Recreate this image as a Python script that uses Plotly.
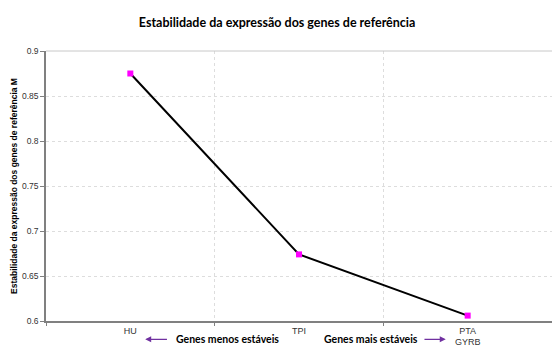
import plotly.graph_objects as go

# Stability value M for each reference gene group
genes = ["HU", "TPI", "PTA<br>GYRB"]
m_values = [0.875, 0.674, 0.606]
y_ticks = [0.6, 0.65, 0.7, 0.75, 0.8, 0.85, 0.9]
y_tick_text = ["0.6", "0.65", "0.7", "0.75", "0.8", "0.85", "0.9"]

fig = go.Figure()
fig.add_trace(go.Scatter(
    x=genes, y=m_values, mode="lines+markers",
    line=dict(color="black", width=2),
    marker=dict(symbol="square", size=6, color="#ff00ff"),
    showlegend=False,
))

fig.update_layout(
    width=552, height=348,
    margin=dict(l=46, r=0, t=51, b=27),
    paper_bgcolor="white", plot_bgcolor="white",
    title=dict(
        text="<b>Estabilidade da expressão dos genes de referência</b>",
        x=0.502, xanchor="center", y=0.935, yanchor="middle",
        font=dict(family="Lato", size=12.5, color="black"),
    ),
    xaxis=dict(
        type="category", range=[-0.5, 2.5], tickson="boundaries",
        showgrid=True, gridcolor="#dddddd", griddash="dot", gridwidth=1,
        showline=True, linecolor="#808080", linewidth=1.5,
        ticks="outside", ticklen=3, tickcolor="#808080",
        tickfont=dict(family="Liberation Sans", size=9, color="#333333"),
        fixedrange=True,
    ),
    yaxis=dict(
        range=[0.6, 0.9], tickvals=y_ticks, ticktext=y_tick_text,
        showgrid=True, gridcolor="#dddddd", griddash="dot", gridwidth=1,
        showline=True, linecolor="#808080", linewidth=1.5,
        ticks="outside", ticklen=4, tickcolor="#808080",
        tickfont=dict(family="Liberation Sans Narrow, Liberation Sans", size=8.5, color="#333333"),
        zeroline=False,
        title=dict(
            text="<b>Estabilidade da expressão dos genes de referência M</b>",
            font=dict(family="Liberation Sans Narrow, Liberation Sans", size=8.5, color="black"),
            standoff=3,
        ),
    ),
)

# Solid line along the top of the plot
fig.add_shape(type="line", xref="paper", yref="paper", x0=0, x1=1, y0=1, y1=1,
              line=dict(color="#c8c8c8", width=1))

purple = "#7030a0"
annot_font = dict(family="Lato", size=10.5, color="black")
fig.add_annotation(text="<b>Genes menos estáveis</b>", xref="paper", yref="paper",
                   x=0.252, y=-0.068, xanchor="left", yanchor="middle",
                   showarrow=False, font=annot_font)
fig.add_annotation(text="<b>Genes mais estáveis</b>", xref="paper", yref="paper",
                   x=0.546, y=-0.068, xanchor="left", yanchor="middle",
                   showarrow=False, font=annot_font)
# Direction arrows
fig.add_annotation(xref="x domain", yref="y domain", x=0.196, y=-0.068,
                   ax=0.242, ay=-0.068, axref="x domain", ayref="y domain",
                   showarrow=True, arrowhead=2, arrowsize=1, arrowwidth=1.2,
                   arrowcolor=purple, text="")
fig.add_annotation(xref="x domain", yref="y domain", x=0.79, y=-0.068,
                   ax=0.745, ay=-0.068, axref="x domain", ayref="y domain",
                   showarrow=True, arrowhead=2, arrowsize=1, arrowwidth=1.2,
                   arrowcolor=purple, text="")

fig.write_html("out.html")
